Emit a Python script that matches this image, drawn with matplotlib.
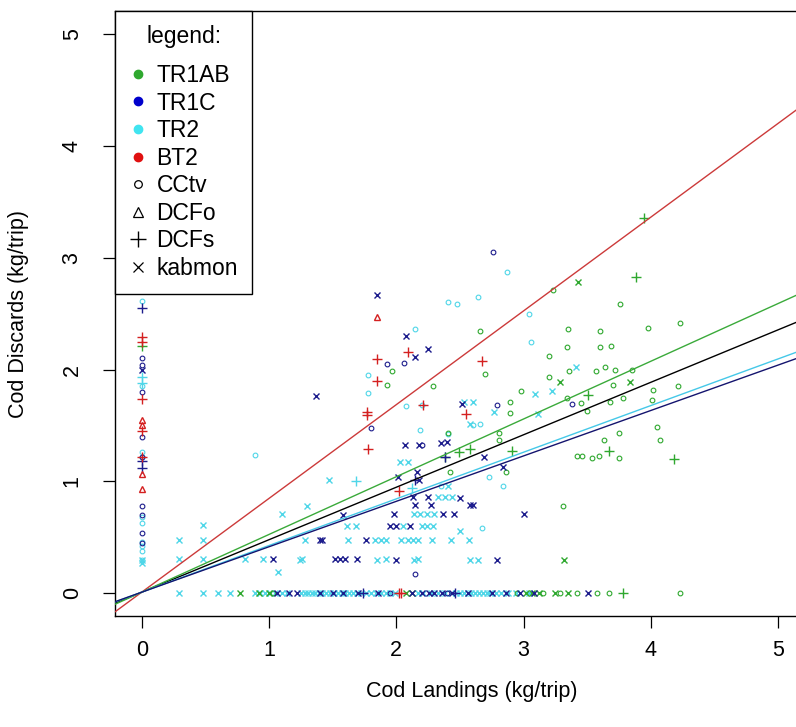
import matplotlib
matplotlib.use("Agg")
import matplotlib.pyplot as plt
from matplotlib.lines import Line2D

plt.rcParams['font.family'] = ['Liberation Sans', 'DejaVu Sans']

# colours per fleet
GREEN = '#2fa82f'
NAVY = '#1c1c8c'
CYAN = '#4fd6e8'
RED = '#d42020'

# TR1AB
tr1ab_cctv_x = [1.97, 1.93, 2.29, 2.70, 3.23, 3.76, 4.23, 3.98, 2.66, 3.35, 3.60, 3.34, 3.60, 3.69,
                3.20, 3.20, 3.36, 3.57, 3.64, 3.85, 3.72, 2.98, 2.89, 3.70, 3.34, 3.45, 3.68, 3.78,
                4.02, 4.21, 4.01, 3.50, 2.89, 2.81, 2.81, 2.41, 4.05, 4.07, 3.75, 3.63, 3.42, 3.46,
                3.54, 3.59, 3.75, 2.86, 2.42, 3.31]
tr1ab_cctv_y = [1.99, 1.86, 1.85, 1.96, 2.71, 2.59, 2.42, 2.37, 2.34, 2.36, 2.34, 2.20, 2.20, 2.21,
                2.12, 1.93, 1.99, 1.99, 2.02, 2.00, 2.00, 1.81, 1.71, 1.86, 1.75, 1.70, 1.71, 1.75,
                1.82, 1.85, 1.73, 1.63, 1.61, 1.43, 1.37, 1.43, 1.49, 1.37, 1.43, 1.37, 1.23, 1.23,
                1.21, 1.23, 1.21, 1.08, 1.08, 0.78]
tr1ab_cctv_zero = [1.03, 2.95, 3.15, 3.29, 3.42, 3.58, 3.67, 4.23]
tr1ab_dcfs_x = [3.95, 3.88, 3.51, 3.67, 4.18, 2.91, 2.49, 2.58, 2.38, 0.0]
tr1ab_dcfs_y = [3.35, 2.83, 1.77, 1.27, 1.20, 1.27, 1.26, 1.29, 1.22, 2.21]
tr1ab_dcfs_zero = [3.78]
tr1ab_kab_x = [3.43, 3.29, 3.84, 3.32]
tr1ab_kab_y = [2.78, 1.89, 1.89, 0.30]
tr1ab_kab_zero = [0.77, 0.92, 1.00, 2.08, 2.12, 3.02, 3.07, 3.12, 3.25, 3.35]

# TR1C
tr1c_cctv_x = [2.06, 1.93, 1.80, 2.20, 2.15, 2.76, 3.38, 2.79, 0, 0, 0, 0, 0, 0, 0, 0, 0]
tr1c_cctv_y = [2.06, 2.05, 1.48, 1.33, 0.17, 3.05, 1.69, 1.68, 2.10, 2.04, 1.80, 1.22, 0.78, 0.70,
               0.54, 0.45, 1.40]
tr1c_cctv_zero = [1.95, 2.40]
tr1c_dcfs_x = [2.15, 2.38, 0, 0, 0]
tr1c_dcfs_y = [1.01, 1.22, 2.55, 1.12, 1.18]
tr1c_dcfs_zero = [1.74, 2.46]
tr1c_kab_x = [1.85, 2.08, 2.25, 2.15, 1.37, 2.07, 2.18, 2.40, 2.35, 2.16, 2.18, 2.01, 2.52, 2.69,
              2.84, 2.13, 2.25, 2.50, 2.15, 2.27, 2.58, 2.60, 1.58, 1.98, 2.37, 2.45, 3.00, 1.95,
              2.00, 2.11, 1.40, 1.42, 1.76, 1.03, 1.52, 1.56, 1.60, 1.69, 2.00, 2.79, 0.0]
tr1c_kab_y = [2.67, 2.30, 2.18, 2.11, 1.76, 1.33, 1.33, 1.35, 1.34, 1.08, 1.01, 1.04, 1.69, 1.22,
              1.13, 0.86, 0.86, 0.85, 0.79, 0.79, 0.79, 0.79, 0.70, 0.71, 0.71, 0.71, 0.71, 0.60,
              0.60, 0.60, 0.48, 0.48, 0.48, 0.31, 0.31, 0.31, 0.31, 0.31, 0.30, 0.30, 2.00]
tr1c_kab_zero = [1.06, 1.16, 1.22, 1.40, 1.50, 1.58, 1.70, 1.86, 2.12, 2.20, 2.26, 2.30, 2.36,
                 2.44, 2.56, 2.75, 2.86, 2.97, 3.08, 3.51]

# TR2
tr2_cctv_x = [0.89, 1.78, 1.78, 2.08, 2.15, 2.41, 2.48, 2.64, 2.87, 3.04, 3.06, 2.19, 2.41, 2.35,
              2.60, 2.66, 2.73, 2.84, 2.67, 2.20, 0, 0, 0, 0, 0, 0, 0, 0, 0, 0]
tr2_cctv_y = [1.24, 1.95, 1.79, 1.67, 2.36, 2.60, 2.59, 2.65, 2.87, 2.50, 2.25, 1.46, 1.42, 0.96,
              1.50, 1.51, 1.04, 0.96, 0.58, 1.68, 2.61, 1.26, 1.22, 0.68, 0.63, 0.46, 0.42, 0.38,
              0.30, 1.85]
tr2_dcfs_x = [1.68, 2.12, 0, 0]
tr2_dcfs_y = [1.00, 0.94, 1.93, 1.88]
tr2_kab_x = [0.29, 0.29, 0.48, 0.48, 0.48, 0.81, 0.95, 1.07, 1.10, 1.26, 1.28, 1.30, 1.47, 1.61,
             1.68, 1.62, 1.83, 1.88, 1.92, 1.85, 1.92, 2.04, 2.09, 2.13, 2.17, 2.28, 2.43, 2.57,
             2.14, 2.17, 2.58, 2.64, 2.14, 2.19, 2.24, 2.30, 2.05, 2.20, 2.24, 2.29, 2.50, 2.33,
             2.38, 2.44, 2.03, 2.09, 2.53, 2.60, 2.58, 2.77, 3.11, 3.22, 3.09, 3.41, 2.41, 1.24,
             0, 0]
tr2_kab_y = [0.48, 0.31, 0.61, 0.48, 0.31, 0.31, 0.31, 0.19, 0.71, 0.31, 0.48, 0.78, 1.01, 0.60,
             0.60, 0.48, 0.48, 0.48, 0.48, 0.30, 0.31, 0.48, 0.48, 0.48, 0.48, 0.48, 0.48, 0.48,
             0.30, 0.31, 0.30, 0.30, 0.71, 0.71, 0.71, 0.71, 0.60, 0.60, 0.60, 0.60, 0.56, 0.86,
             0.86, 0.86, 1.17, 1.17, 1.71, 1.71, 1.51, 1.62, 1.60, 1.81, 1.78, 2.02, 0.96, 0.30,
             0.27, 0.30]
tr2_kab_zero = [0.29, 0.48, 0.60, 0.69, 0.89, 0.93, 0.97, 1.01, 1.05, 1.10, 1.14, 1.25, 1.28,
                1.31, 1.34, 1.36, 1.39, 1.42, 1.45, 1.48, 1.51, 1.54, 1.57, 1.60, 1.63, 1.66,
                1.69, 1.72, 1.76, 1.80, 1.84, 1.88, 1.92, 1.95, 1.99, 2.17, 2.21, 2.27, 2.33,
                2.38, 2.43, 2.47, 2.50, 2.53, 2.56, 2.59, 2.62, 2.65, 2.68, 2.71, 2.74, 2.78,
                2.82, 2.88, 2.94, 3.04]

# BT2
bt2_dcfs_x = [1.85, 1.85, 2.09, 2.21, 1.77, 1.77, 1.78, 2.02, 2.67, 2.55, 0, 0, 0, 0, 0]
bt2_dcfs_y = [2.09, 1.90, 2.16, 1.68, 1.62, 1.59, 1.29, 0.91, 2.08, 1.60, 2.29, 2.25, 1.74, 1.45,
              1.22]
bt2_dcfs_zero = [2.02, 2.04]
bt2_dcfo_x = [1.85, 0, 0, 0, 0]
bt2_dcfo_y = [2.47, 1.55, 1.50, 1.07, 0.93]

# regression lines (all fleets, BT2, TR1AB, TR2, TR1C)
fit_colors = ['black', '#cc3a3a', '#3aaa3a', '#45c8e8', '#14146e']
fit_slopes = [0.469, 0.838, 0.516, 0.417, 0.406]
fit_intercepts = [0.01, 0.01, 0.01, 0.01, 0.01]

legend_labels = ['TR1AB', 'TR1C', 'TR2', 'BT2', 'CCtv', 'DCFo', 'DCFs', 'kabmon']

fig = plt.figure(figsize=(7.96, 7.27), dpi=100)
ax = fig.add_axes([0.1449, 0.1531, 0.8966, 0.8311])

circ = dict(marker='o', ms=3.4, mfc='none', mew=0.8, ls='none')
plus = dict(marker='+', ms=7, mew=1.0, ls='none')
cross = dict(marker='x', ms=4.8, mew=1.0, ls='none')
tri = dict(marker='^', ms=5, mfc='none', mew=1.0, ls='none')


def zeros(xs):
    return [0.0 for _ in xs]


# TR2 first, it sits underneath the rest
ax.plot(tr2_kab_x, tr2_kab_y, color=CYAN, **cross)
ax.plot(tr2_kab_zero, zeros(tr2_kab_zero), color=CYAN, **cross)
ax.plot(tr2_cctv_x, tr2_cctv_y, color=CYAN, **circ)
ax.plot(tr2_dcfs_x, tr2_dcfs_y, color=CYAN, **plus)

ax.plot(tr1ab_cctv_x, tr1ab_cctv_y, color=GREEN, **circ)
ax.plot(tr1ab_cctv_zero, zeros(tr1ab_cctv_zero), color=GREEN, **circ)
ax.plot(tr1ab_dcfs_x, tr1ab_dcfs_y, color=GREEN, **plus)
ax.plot(tr1ab_dcfs_zero, zeros(tr1ab_dcfs_zero), color=GREEN, **plus)
ax.plot(tr1ab_kab_x, tr1ab_kab_y, color=GREEN, **cross)
ax.plot(tr1ab_kab_zero, zeros(tr1ab_kab_zero), color=GREEN, **cross)

ax.plot(tr1c_kab_x, tr1c_kab_y, color=NAVY, **cross)
ax.plot(tr1c_kab_zero, zeros(tr1c_kab_zero), color=NAVY, **cross)
ax.plot(tr1c_cctv_x, tr1c_cctv_y, color=NAVY, **circ)
ax.plot(tr1c_cctv_zero, zeros(tr1c_cctv_zero), color=NAVY, **circ)
ax.plot(tr1c_dcfs_x, tr1c_dcfs_y, color=NAVY, **plus)
ax.plot(tr1c_dcfs_zero, zeros(tr1c_dcfs_zero), color=NAVY, **plus)

ax.plot(bt2_dcfs_x, bt2_dcfs_y, color=RED, **plus)
ax.plot(bt2_dcfs_zero, zeros(bt2_dcfs_zero), color=RED, **plus)
ax.plot(bt2_dcfo_x, bt2_dcfo_y, color=RED, **tri)

for c, m, b in zip(fit_colors, fit_slopes, fit_intercepts):
    ax.axline((0, b), slope=m, color=c, lw=1.0, zorder=5)

ax.set_xlim(-0.207, 5.40)
ax.set_ylim(-0.2, 5.2)
ax.set_xticks([0, 1, 2, 3, 4, 5])
ax.set_yticks([0, 1, 2, 3, 4, 5])
ax.tick_params(length=8.5, width=0.9, labelsize=15.5, color='black')
ax.tick_params(axis='x', pad=9)
ax.tick_params(axis='y', pad=15, labelrotation=90)
for lab in ax.get_yticklabels():
    lab.set_va('center')
for s in ax.spines.values():
    s.set_linewidth(1.0)

ax.set_xlabel('Cod Landings (kg/trip)', fontsize=15.5)
ax.set_ylabel('Cod Discards (kg/trip)', fontsize=15.5)
ax.xaxis.set_label_coords(0.5, -0.126)
ax.xaxis.label.set_va('center')
ax.yaxis.set_label_coords(-0.135, 0.5)
ax.yaxis.label.set_va('center')

handles = [
    Line2D([], [], marker='o', ls='none', color=GREEN, ms=6),
    Line2D([], [], marker='o', ls='none', color='#0000cc', ms=6),
    Line2D([], [], marker='o', ls='none', color='#40e4f0', ms=6),
    Line2D([], [], marker='o', ls='none', color='#e01010', ms=6),
    Line2D([], [], marker='o', ls='none', color='black', mfc='none', ms=5.5, mew=0.9),
    Line2D([], [], marker='^', ls='none', color='black', mfc='none', ms=7, mew=0.9),
    Line2D([], [], marker='+', ls='none', color='black', ms=11, mew=1.0),
    Line2D([], [], marker='x', ls='none', color='black', ms=7, mew=0.9),
]
leg_fs = 16.5
leg = ax.legend(handles, legend_labels, title='legend:', loc='upper left',
                bbox_to_anchor=(0, 1), borderaxespad=0, fontsize=leg_fs, title_fontsize=leg_fs,
                frameon=True, fancybox=False, edgecolor='black', framealpha=1,
                handlelength=0.75, handletextpad=0.45, borderpad=0.6, labelspacing=0.2)
leg.get_frame().set_linewidth(1.0)
leg.set_zorder(10)
# wider gap between the title and the first entry
leg._legend_box.sep = 0.2 * leg_fs + 8

fig.savefig('out.png', dpi=100)
